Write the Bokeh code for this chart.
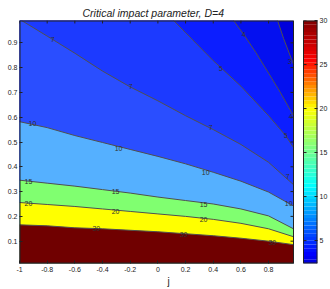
import numpy as np
from bokeh.plotting import figure
from bokeh.models import FixedTicker, Range1d, Label, LinearAxis
from bokeh.embed import file_html
from bokeh.resources import INLINE
from bokeh.core.properties import value

FONT = "Liberation Sans"

# ---------------- data ----------------
J_MIN, J_MAX = -1.0, 0.98
V_MIN, V_MAX = 0.01, 0.99

# contour lines spanning the full width
j_full = [-1.0, -0.8, -0.6, -0.4, -0.2, 0.0, 0.2, 0.4, 0.6, 0.8, 0.98]
v_lvl30 = [0.166, 0.162, 0.154, 0.150, 0.144, 0.138, 0.130, 0.122, 0.112, 0.100, 0.086]
v_lvl20 = [0.256, 0.248, 0.240, 0.230, 0.220, 0.210, 0.200, 0.188, 0.172, 0.150, 0.118]
v_lvl15 = [0.346, 0.334, 0.322, 0.308, 0.294, 0.278, 0.264, 0.250, 0.230, 0.202, 0.150]
v_lvl10 = [0.582, 0.558, 0.526, 0.498, 0.470, 0.442, 0.412, 0.378, 0.342, 0.298, 0.242]

# contour lines entering from the top edge
j_lvl7 = [-0.985, -0.8, -0.6, -0.4, -0.2, 0.0, 0.2, 0.4, 0.6, 0.8, 0.98]
v_lvl7 = [0.990, 0.927, 0.858, 0.786, 0.722, 0.666, 0.606, 0.550, 0.490, 0.418, 0.328]
j_lvl5 = [0.114, 0.2, 0.4, 0.6, 0.8, 0.923, 0.98]
v_lvl5 = [0.990, 0.941, 0.828, 0.725, 0.606, 0.526, 0.478]
j_lvl4 = [0.547, 0.62, 0.707, 0.8, 0.887, 0.98]
v_lvl4 = [0.990, 0.934, 0.862, 0.778, 0.698, 0.606]
j_lvl3 = [0.865, 0.908, 0.971, 0.98]
v_lvl3 = [0.990, 0.918, 0.826, 0.814]

# contour labels
lab_j = [-0.445, 0.186, 0.827,
         -0.935, -0.306, 0.33,
         -0.935, -0.306, 0.33,
         -0.906, -0.284, 0.345, 0.945,
         -0.761, -0.197, 0.381, 0.938,
         0.453, 0.923,
         0.62, 0.96,
         0.952]
lab_v = [0.150, 0.126, 0.094,
         0.250, 0.218, 0.186,
         0.342, 0.302, 0.246,
         0.574, 0.474, 0.378, 0.250,
         0.914, 0.722, 0.558, 0.362,
         0.798, 0.526,
         0.934, 0.602,
         0.826]
lab_t = ["30", "30", "30",
         "20", "20", "20",
         "15", "15", "15",
         "10", "10", "10", "10",
         "7", "7", "7", "7",
         "5", "5",
         "4", "4",
         "3"]

x_ticks = [-1, -0.8, -0.6, -0.4, -0.2, 0, 0.2, 0.4, 0.6, 0.8]
x_tick_labels = ["-1", "-0.8", "-0.6", "-0.4", "-0.2", "0", "0.2", "0.4", "0.6", "0.8"]
y_ticks = [0.1, 0.2, 0.3, 0.4, 0.5, 0.6, 0.7, 0.8, 0.9]
cb_ticks = [5, 10, 15, 20, 25, 30]
CB_MIN, CB_MAX = 2.4, 30.0

# ---------------- styles ----------------
base_color = "#0000dc"
region_colors = {3: "#0410f0", 4: "#0c1eff", 5: "#1c3aff", 7: "#2a4eff",
                 10: "#55b0ff", 15: "#80ff70", 20: "#ffff00", 30: "#700000"}
line_color = "#505050"
axis_color = "#222222"
TICK_PX = 3

# colorbar palette anchors (jet-like)
cb_anchor_v = [2.4, 3.5, 11.2, 20.0, 25.5, 30.0]
cb_anchor_rgb = [(0, 0, 215), (0, 0, 255), (0, 255, 255), (255, 255, 0), (255, 0, 0), (128, 0, 0)]

# layout in pixels
W, H = 330, 289
BORDER_L, BORDER_R, BORDER_T, BORDER_B = 19, 13, 20, 24
FRAME_W = W - BORDER_L - BORDER_R       # 298: main box + gap + colour bar
FRAME_H = H - BORDER_T - BORDER_B       # 245
MAIN_W = 274                            # width of the contour box
CB_GAP, CB_W = 10, 14                   # gap and colour-bar width

x_end = J_MIN + (J_MAX - J_MIN) * FRAME_W / MAIN_W

p = figure(width=W, height=H, output_backend="svg", toolbar_location=None,
           x_range=Range1d(J_MIN, x_end), y_range=Range1d(V_MIN, V_MAX),
           min_border_left=BORDER_L, min_border_right=BORDER_R,
           min_border_top=BORDER_T, min_border_bottom=BORDER_B,
           x_axis_label="j")
p.extra_x_ranges = {"cbx": Range1d(-(MAIN_W + CB_GAP) / CB_W, 1.0)}
p.extra_y_ranges = {"cby": Range1d(CB_MIN, CB_MAX)}
p.background_fill_color = "white"
p.border_fill_color = "white"
p.outline_line_color = None
p.grid.visible = False

p.title.text = "Critical impact parameter, D=4"
p.title.align = "left"
p.title.offset = 63
p.title.text_font = FONT
p.title.text_font_style = "italic"
p.title.text_font_size = "10.5px"
p.title.text_color = axis_color
p.title.standoff = 4

def style_axis(ax):
    ax.major_tick_in = TICK_PX
    ax.major_tick_out = 0
    ax.minor_tick_in = 0
    ax.minor_tick_out = 0
    ax.axis_line_color = None
    ax.major_tick_line_color = axis_color
    ax.major_label_text_font = FONT
    ax.major_label_text_color = axis_color
    ax.major_label_text_font_size = "7px"
    ax.major_label_standoff = 2

xa = p.xaxis[0]
xa.ticker = FixedTicker(ticks=x_ticks)
xa.major_label_overrides = {t: s for t, s in zip(x_ticks, x_tick_labels)}
style_axis(xa)
xa.major_label_standoff = 3
xa.axis_label_text_font = FONT
xa.axis_label_text_font_style = "normal"
xa.axis_label_text_font_size = "10px"
xa.axis_label_text_color = axis_color
xa.axis_label_standoff = 1
ya = p.yaxis[0]
ya.ticker = FixedTicker(ticks=y_ticks)
style_axis(ya)

# base (lowest) region
p.quad(left=J_MIN, right=J_MAX, bottom=V_MIN, top=V_MAX, fill_color=base_color, line_color=None)

# filled regions (value >= level lies below each line)
full_lines = {10: v_lvl10, 15: v_lvl15, 20: v_lvl20, 30: v_lvl30}
part_lines = {3: (j_lvl3, v_lvl3), 4: (j_lvl4, v_lvl4), 5: (j_lvl5, v_lvl5), 7: (j_lvl7, v_lvl7)}
for lvl in [3, 4, 5, 7]:
    jj, vv = part_lines[lvl]
    xs = list(jj) + [J_MAX, J_MIN, J_MIN]
    ys = list(vv) + [V_MIN, V_MIN, V_MAX]
    p.patch(xs, ys, fill_color=region_colors[lvl], line_color=None)
for lvl in [10, 15, 20, 30]:
    vv = full_lines[lvl]
    xs = list(j_full) + [J_MAX, J_MIN]
    ys = list(vv) + [V_MIN, V_MIN]
    p.patch(xs, ys, fill_color=region_colors[lvl], line_color=None)

for lvl in [3, 4, 5, 7]:
    jj, vv = part_lines[lvl]
    p.line(jj, vv, line_color=line_color, line_width=1)
for lvl in [10, 15, 20, 30]:
    p.line(j_full, full_lines[lvl], line_color=line_color, line_width=1)

p.text(x=lab_j, y=lab_v, text=lab_t, text_font=value(FONT), text_font_size="7px",
       text_color="#303030", text_align="center", text_baseline="middle")

# box of the contour plot (edges on the frame border drawn 2px so 1px shows)
p.segment(x0=[J_MIN, J_MIN, J_MIN], y0=[V_MIN, V_MIN, V_MAX],
          x1=[J_MIN, J_MAX, J_MAX], y1=[V_MAX, V_MIN, V_MAX],
          line_color=axis_color, line_width=2)
p.segment(x0=[J_MAX], y0=[V_MIN], x1=[J_MAX], y1=[V_MAX], line_color=axis_color, line_width=1)

# inward ticks on the top and right edges of the box
dy_tick = TICK_PX * (V_MAX - V_MIN) / FRAME_H
dx_tick = TICK_PX * (J_MAX - J_MIN) / MAIN_W
p.segment(x0=x_ticks, y0=[V_MAX] * len(x_ticks), x1=x_ticks, y1=[V_MAX - dy_tick] * len(x_ticks),
          line_color=axis_color, line_width=1)
p.segment(x0=[J_MAX] * len(y_ticks), y0=y_ticks, x1=[J_MAX - dx_tick] * len(y_ticks), y1=y_ticks,
          line_color=axis_color, line_width=1)

p.add_layout(Label(x=-1.115, y=0.558, text="v", text_font=FONT, text_font_size="10px",
                   text_color=axis_color, text_align="left", text_baseline="middle"))

# ---------------- colour bar ----------------
n_bands = 64
edges = np.linspace(CB_MIN, CB_MAX, n_bands + 1)
centers = 0.5 * (edges[:-1] + edges[1:])
rgb = np.array(cb_anchor_rgb, dtype=float)
cols = []
for c in centers:
    r = np.interp(c, cb_anchor_v, rgb[:, 0])
    g = np.interp(c, cb_anchor_v, rgb[:, 1])
    b = np.interp(c, cb_anchor_v, rgb[:, 2])
    cols.append("#%02x%02x%02x" % (int(round(r)), int(round(g)), int(round(b))))
p.quad(left=0, right=1, bottom=edges[:-1], top=edges[1:], fill_color=cols, line_color=None,
       x_range_name="cbx", y_range_name="cby")
p.segment(x0=[0, 0, 1], y0=[CB_MIN, CB_MAX, CB_MIN], x1=[1, 1, 1], y1=[CB_MIN, CB_MAX, CB_MAX],
          line_color=axis_color, line_width=2, x_range_name="cbx", y_range_name="cby")
p.segment(x0=[0], y0=[CB_MIN], x1=[0], y1=[CB_MAX], line_color=axis_color, line_width=1,
          x_range_name="cbx", y_range_name="cby")
dxc = TICK_PX / CB_W
p.segment(x0=[0] * len(cb_ticks), y0=cb_ticks, x1=[dxc] * len(cb_ticks), y1=cb_ticks,
          line_color=axis_color, line_width=1, x_range_name="cbx", y_range_name="cby")
cba = LinearAxis(y_range_name="cby", ticker=FixedTicker(ticks=cb_ticks))
style_axis(cba)
p.add_layout(cba, "right")

open("out.html", "w").write(file_html(p, INLINE))
